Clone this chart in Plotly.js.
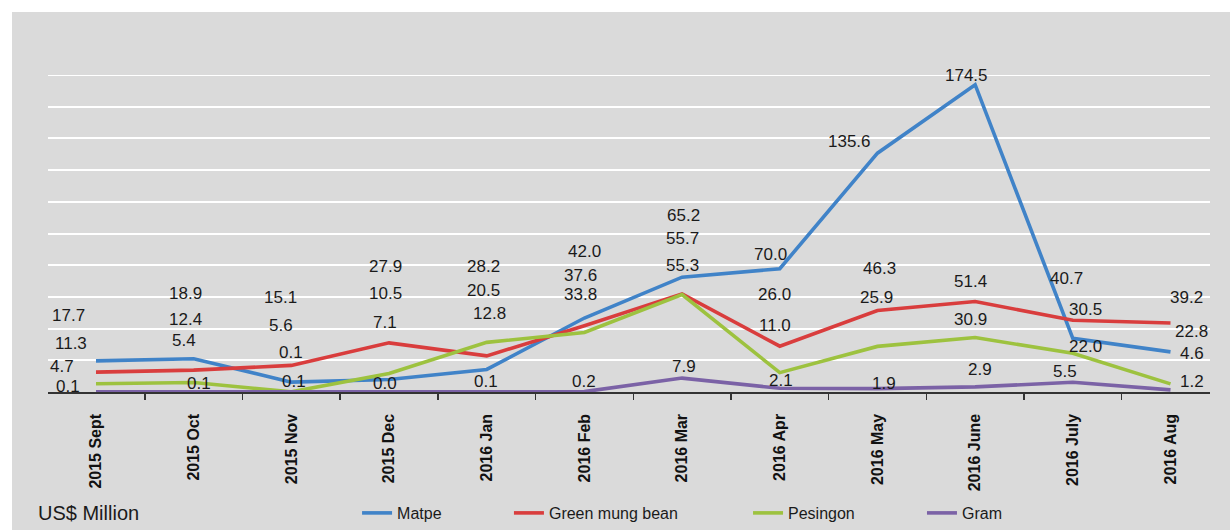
<!DOCTYPE html>
<html>
<head>
<meta charset="utf-8">
<script src="https://cdn.plot.ly/plotly-3.0.1.min.js"></script>
<style>
  html, body { margin: 0; padding: 0; background: #ffffff; width: 1230px; height: 530px; overflow: hidden; }
  #chart { position: absolute; left: 12px; top: 12px; width: 1218px; height: 518px; }
</style>
</head>
<body>
<div id="chart"></div>
<script>
// ---- Data ----
const months = ['2015 Sept', '2015 Oct', '2015 Nov', '2015 Dec', '2016 Jan', '2016 Feb',
                '2016 Mar', '2016 Apr', '2016 May', '2016 June', '2016 July', '2016 Aug'];
const seriesNames = ['Matpe', 'Green mung bean', 'Pesingon', 'Gram'];
const matpe     = [17.7, 18.9, 5.6, 7.1, 12.8, 42.0, 65.2, 70.0, 135.6, 174.5, 30.5, 22.8];
const greenMung = [11.3, 12.4, 15.1, 27.9, 20.5, 37.6, 55.7, 26.0, 46.3, 51.4, 40.7, 39.2];
const pesingon  = [4.7, 5.4, 0.1, 10.5, 28.2, 33.8, 55.3, 11.0, 25.9, 30.9, 22.0, 4.6];
const gram      = [0.1, 0.1, 0.1, 0.0, 0.1, 0.2, 7.9, 2.1, 1.9, 2.9, 5.5, 1.2];
const yUnit = 'US$ Million';

// ---- Styling / layout (not data) ----
const colors = ['#4083c8', '#d93d3d', '#9dc23f', '#7b62a6'];
// label placement (axis units) and horizontal shifts (px), as positioned in the original
const labelY = [
  [43.2, 56.2, 37.5, 39.2, 44.3, 79.5, 100.5, 77.8, 142.0, 180.0, 46.6, 34.1],
  [27.8, 40.9, 53.4, 71.5, 57.9, 66.4, 86.9, 55.1, 70.4, 62.5, 64.7, 53.9],
  [14.2, 29.5, 22.7, 56.2, 71.0, 55.1, 72.1, 38.0, 53.9, 40.9, 26.1, 22.1],
  [3.4, 5.1, 5.7, 5.1, 5.7, 5.7, 14.2, 6.8, 5.1, 12.5, 11.4, 6.2]
];
const labelDx = [
  [-28, -8, -10, -4, 3, 0, 1, -9, -28, -9, 13, 21],
  [-25, -8, -11, -4, -3, -4, 0, -5, 2, -5, -6, 16],
  [-34, -10, 0, -4, -3, -4, 0, -5, -1, -5, 13, 21],
  [-28, 5, 3, -4, -1, 0, 2, 1, 7, 5, -8, 21]
];
const legendX = [0.2833, 0.408, 0.6043, 0.7471]; // container fractions
const legendIds = ['legend', 'legend2', 'legend3', 'legend4'];

const allSeries = [matpe, greenMung, pesingon, gram];
const FONT = 'Liberation Sans, Arial, sans-serif';

const traces = allSeries.map((vals, i) => ({
  type: 'scatter',
  mode: 'lines',
  name: seriesNames[i],
  legend: legendIds[i],
  x: months,
  y: vals,
  line: { color: colors[i], width: 3.6 },
  hoverinfo: 'x+y+name'
}));

const annotations = [];
allSeries.forEach((vals, i) => {
  vals.forEach((v, j) => {
    annotations.push({
      x: months[j], y: labelY[i][j], xref: 'x', yref: 'y',
      text: v.toFixed(1), showarrow: false, xshift: labelDx[i][j],
      xanchor: 'center', yanchor: 'middle',
      font: { family: FONT, size: 17, color: '#1a1a1a' }
    });
  });
});
annotations.push({
  x: -12 / 1162, y: -121 / 317, xref: 'paper', yref: 'paper',
  text: yUnit, showarrow: false, xanchor: 'left', yanchor: 'middle',
  font: { family: FONT, size: 20, color: '#1a1a1a' }
});

const layout = {
  width: 1218, height: 518,
  margin: { l: 36, r: 20, t: 63, b: 138, autoexpand: false },
  paper_bgcolor: '#dadada',
  plot_bgcolor: '#dadada',
  showlegend: true,
  xaxis: {
    type: 'category',
    tickangle: -90,
    ticks: 'outside', tickson: 'boundaries', ticklen: 6, tickwidth: 1.5, tickcolor: '#333333',
    ticklabelstandoff: 14,
    showline: true, linecolor: '#333333', linewidth: 1.5,
    showgrid: false, zeroline: false,
    tickfont: { family: FONT, size: 16, color: '#111111', weight: 'bold' },
    fixedrange: true, automargin: false
  },
  yaxis: {
    range: [0, 180], dtick: 18, tick0: 0,
    showticklabels: false, ticks: '',
    showgrid: true, gridcolor: '#ffffff', gridwidth: 2,
    zeroline: false, showline: false,
    fixedrange: true, automargin: false
  },
  shapes: [{
    type: 'line', xref: 'paper', yref: 'y', x0: 0, x1: 1, y0: 180, y1: 180,
    line: { color: '#ffffff', width: 2 }, layer: 'below'
  }],
  annotations: annotations
};
legendIds.forEach((id, i) => {
  layout[id] = {
    orientation: 'h', xref: 'container', yref: 'container',
    x: legendX[i], xanchor: 'left', y: 17 / 518, yanchor: 'middle',
    font: { family: FONT, size: 16, color: '#1a1a1a' },
    bgcolor: 'rgba(0,0,0,0)', borderwidth: 0
  };
});

Plotly.newPlot('chart', traces, layout, { displayModeBar: false, staticPlot: true });
</script>
</body>
</html>
